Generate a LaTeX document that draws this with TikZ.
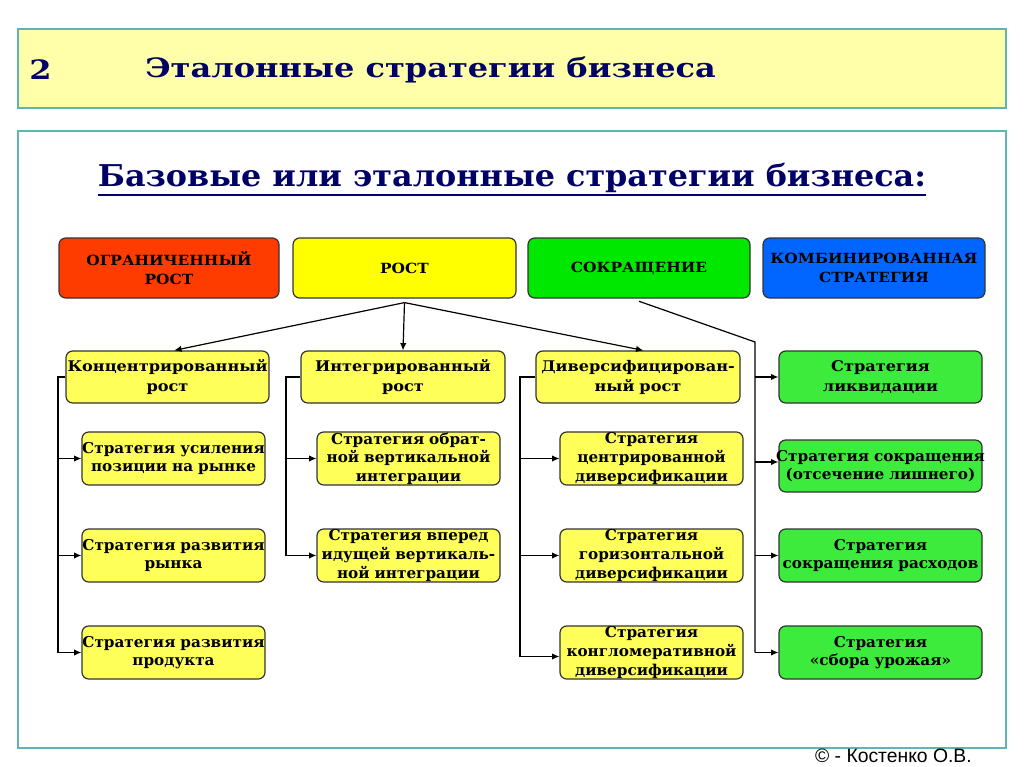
\documentclass[tikz,border=0pt]{standalone}
\usepackage{fontspec}
\setmainfont{DejaVu Serif}[FakeStretch=1.1]
\newfontfamily\ttlf{DejaVu Serif}[FakeStretch=1.2]
\newfontfamily\subf{DejaVu Serif}[FakeStretch=1.06]
\newfontfamily\boxfont{DejaVu Serif}[FakeStretch=1.02]
\setsansfont{Liberation Sans}
\usetikzlibrary{arrows.meta}
\newdimen\pxu \pxu=0.75pt
\definecolor{navy}{RGB}{0,0,102}
\definecolor{teal}{RGB}{95,180,180}
\definecolor{paleyel}{RGB}{255,255,170}
\definecolor{cred}{RGB}{255,60,0}
\definecolor{cyel}{RGB}{255,255,0}
\definecolor{cyel2}{RGB}{255,255,90}
\definecolor{cgrn}{RGB}{0,232,0}
\definecolor{cgrn2}{RGB}{60,235,60}
\definecolor{cblue}{RGB}{0,102,255}
\begin{document}
\begin{tikzpicture}[x=0.75pt,y=-0.75pt,
  panel/.style={draw=teal,line width=1pt},
  bx/.style 2 args={draw=black!80,line width=0.9pt,rounded corners=5pt,align=center,
     inner xsep=-20\pxu,inner ysep=0pt,text width=#1\pxu,minimum height=#2\pxu},
  topf/.style={font=\bfseries\fontsize{10.5}{14}\selectfont},
  rowf/.style={font=\bfseries\fontsize{11}{15}\selectfont},
  boxf/.style={font=\boxfont\bfseries\fontsize{11.2}{14}\selectfont},
  ln/.style={draw=black,line width=0.9pt},
  arr/.style={ln,-{Latex[length=5.5pt,width=4.8pt]}}]
\useasboundingbox (0,0) rectangle (1024,767);
% panels
\node[panel,fill=paleyel,minimum width=988\pxu,minimum height=79\pxu,inner sep=0pt] (hdr) at (512,68.5) {};
\node[panel,fill=white,minimum width=988\pxu,minimum height=617\pxu,inner sep=0pt] (main) at (512,439.5) {};
\node[text=navy,font=\ttlf\bfseries\fontsize{20}{24}\selectfont,anchor=west,inner sep=0pt] (num) at (29,70) {2};
\node[text=navy,font=\ttlf\bfseries\fontsize{20}{24}\selectfont,anchor=west,inner sep=0pt] (ttl) at (145,70) {Эталонные стратегии бизнеса};
\node[text=navy,font=\subf\bfseries\fontsize{22.5}{26}\selectfont,inner sep=0pt] (sub) at (512,178) {Базовые или эталонные стратегии бизнеса:};
\draw[navy,line width=1.5pt] ([yshift=-1.5pt]sub.south west) -- ([yshift=-1.5pt]sub.south east);
% top row
\node[bx={260}{60},fill=cred,topf] (lim) at (169,268) {ОГРАНИЧЕННЫЙ\\РОСТ};
\node[bx={263}{60},fill=cyel,topf] (rost) at (404.5,268) {РОСТ};
\node[bx={262}{60},fill=cgrn,topf] (sokr) at (639,268) {СОКРАЩЕНИЕ};
\node[bx={262}{60},fill=cblue,topf] (comb) at (874,268) {КОМБИНИРОВАННАЯ\\СТРАТЕГИЯ};
% second row
\node[bx={243}{52},fill=cyel2,rowf] (conc) at (167.5,377) {Концентрированный\\рост};
\node[bx={244}{52},fill=cyel2,rowf] (integ) at (403,377) {Интегрированный\\рост};
\node[bx={244}{52},fill=cyel2,rowf] (diver) at (638,377) {Диверсифицирован-\\ный рост};
\node[bx={243}{52},fill=cgrn2,rowf] (liq) at (880.5,377) {Стратегия\\ликвидации};
% column 1
\node[bx={223}{53},fill=cyel2,boxf] (p1) at (173.5,458.5) {Стратегия усиления\\позиции на рынке};
\node[bx={223}{53},fill=cyel2,boxf] (p2) at (173.5,555.5) {Стратегия развития\\рынка};
\node[bx={223}{53},fill=cyel2,boxf] (p3) at (173.5,652.5) {Стратегия развития\\продукта};
% column 2
\node[bx={223}{53},fill=cyel2,boxf] (i1) at (408.5,458.5) {Стратегия обрат-\\ной вертикальной\\интеграции};
\node[bx={223}{53},fill=cyel2,boxf] (i2) at (408.5,555.5) {Стратегия вперед\\идущей вертикаль-\\ной интеграции};
% column 3
\node[bx={223}{53},fill=cyel2,boxf] (d1) at (651.5,458.5) {Стратегия\\центрированной\\диверсификации};
\node[bx={223}{53},fill=cyel2,boxf] (d2) at (651.5,555.5) {Стратегия\\горизонтальной\\диверсификации};
\node[bx={223}{53},fill=cyel2,boxf] (d3) at (651.5,652.5) {Стратегия\\конгломеративной\\диверсификации};
% column 4
\node[bx={243}{52},fill=cgrn2,boxf] (s1) at (880.5,466) {Стратегия сокращения\\(отсечение лишнего)};
\node[bx={243}{53},fill=cgrn2,boxf] (s2) at (880.5,555.5) {Стратегия\\сокращения расходов};
\node[bx={243}{53},fill=cgrn2,boxf] (s3) at (880.5,652.5) {Стратегия\\«сбора урожая»};
% connectors from РОСТ
\coordinate (r0) at ([yshift=-3pt]rost.south);
\draw[arr] (r0) -- ([xshift=5pt]conc.north);
\draw[arr] (r0) -- (integ.north);
\draw[arr] (r0) -- ([xshift=4pt]diver.north);
% from СОКРАЩЕНИЕ
\coordinate (k0) at ([yshift=-2pt]sokr.south);
\coordinate (k1) at (755,342);
\draw[ln] (k0) -- (k1) -- (k1 |- s3.west);
\draw[arr] (k1 |- liq.west) -- (liq.west);
\draw[arr] ([yshift=3pt]k1 |- s1.west) -- ([yshift=3pt]s1.west);
\draw[arr] (k1 |- s2.west) -- (s2.west);
\draw[arr] (k1 |- s3.west) -- (s3.west);
% column 1 tree
\coordinate (c1) at (58,377);
\draw[ln] (conc.west) -- (c1) -- (c1 |- p3.west);
\draw[arr] (c1 |- p1.west) -- (p1.west);
\draw[arr] (c1 |- p2.west) -- (p2.west);
\draw[arr] (c1 |- p3.west) -- (p3.west);
% column 2 tree
\coordinate (c2) at (286,377);
\draw[ln] (integ.west) -- (c2) -- (c2 |- i2.west);
\draw[arr] (c2 |- i1.west) -- (i1.west);
\draw[arr] (c2 |- i2.west) -- (i2.west);
% column 3 tree
\coordinate (c3) at (520,377);
\draw[ln] (diver.west) -- (c3) -- ([yshift=-3pt]c3 |- d3.west);
\draw[arr] (c3 |- d1.west) -- (d1.west);
\draw[arr] (c3 |- d2.west) -- (d2.west);
\draw[arr] ([yshift=-3pt]c3 |- d3.west) -- ([yshift=-3pt]d3.west);
% footer
\node[font=\sffamily\fontsize{14.5}{17}\selectfont,anchor=east,inner sep=0pt] (copy) at (972,756) {© - Костенко О.В.};
\end{tikzpicture}
\end{document}
